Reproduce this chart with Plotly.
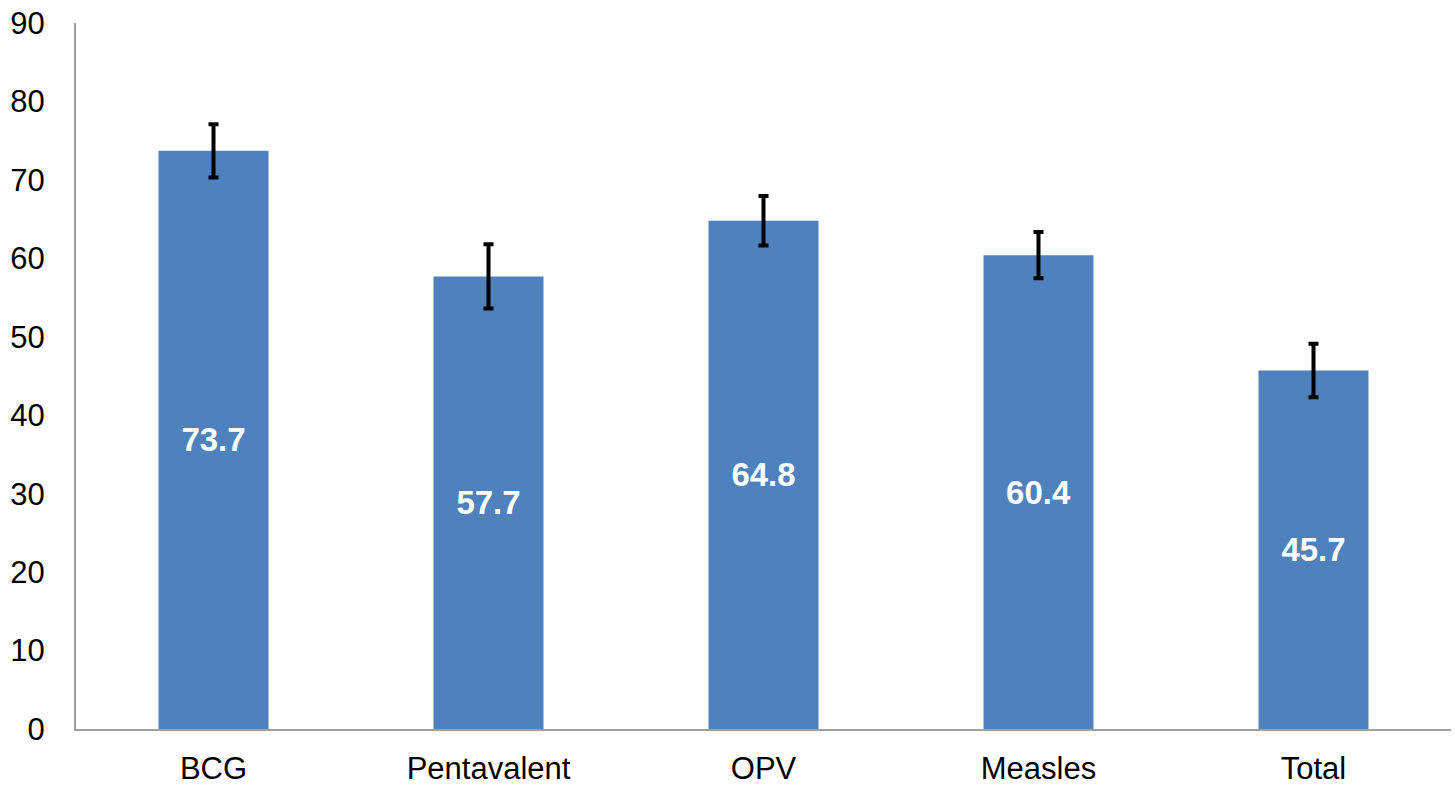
import plotly.graph_objects as go

categories = ["BCG", "Pentavalent", "OPV", "Measles", "Total"]
values = [73.7, 57.7, 64.8, 60.4, 45.7]
errors = [3.4, 4.1, 3.15, 2.95, 3.4]
labels = ["73.7", "57.7", "64.8", "60.4", "45.7"]

fig = go.Figure(go.Bar(
    x=categories, y=values, width=0.4,
    marker=dict(color="#4F81BD", line=dict(width=0)),
    error_y=dict(type="data", array=errors, visible=True, color="black", thickness=4, width=5),
    text=labels, textposition="inside", insidetextanchor="middle",
    textfont=dict(family="Liberation Sans, Arial", size=33, color="white", weight="bold"),
    textangle=0,
))

fig.update_layout(
    width=1455, height=786,
    margin=dict(l=76, r=4, t=23, b=57),
    plot_bgcolor="white", paper_bgcolor="white",
    showlegend=False,
    font=dict(family="Liberation Sans, Arial", size=31, color="black"),
)
fig.update_yaxes(range=[0, 90], tickvals=list(range(0, 100, 10)), showgrid=False,
                 showline=True, linecolor="#A0A0A0", linewidth=2, ticks="",
                 ticklabelstandoff=23, zeroline=False, automargin=False)
fig.update_xaxes(showgrid=False, showline=True, linecolor="#A0A0A0", linewidth=2, ticks="",
                 ticklabelstandoff=11, automargin=False)

fig.write_html("out.html", config={"displayModeBar": False},
               post_script="document.body.style.margin='0';document.body.style.overflow='hidden';")
